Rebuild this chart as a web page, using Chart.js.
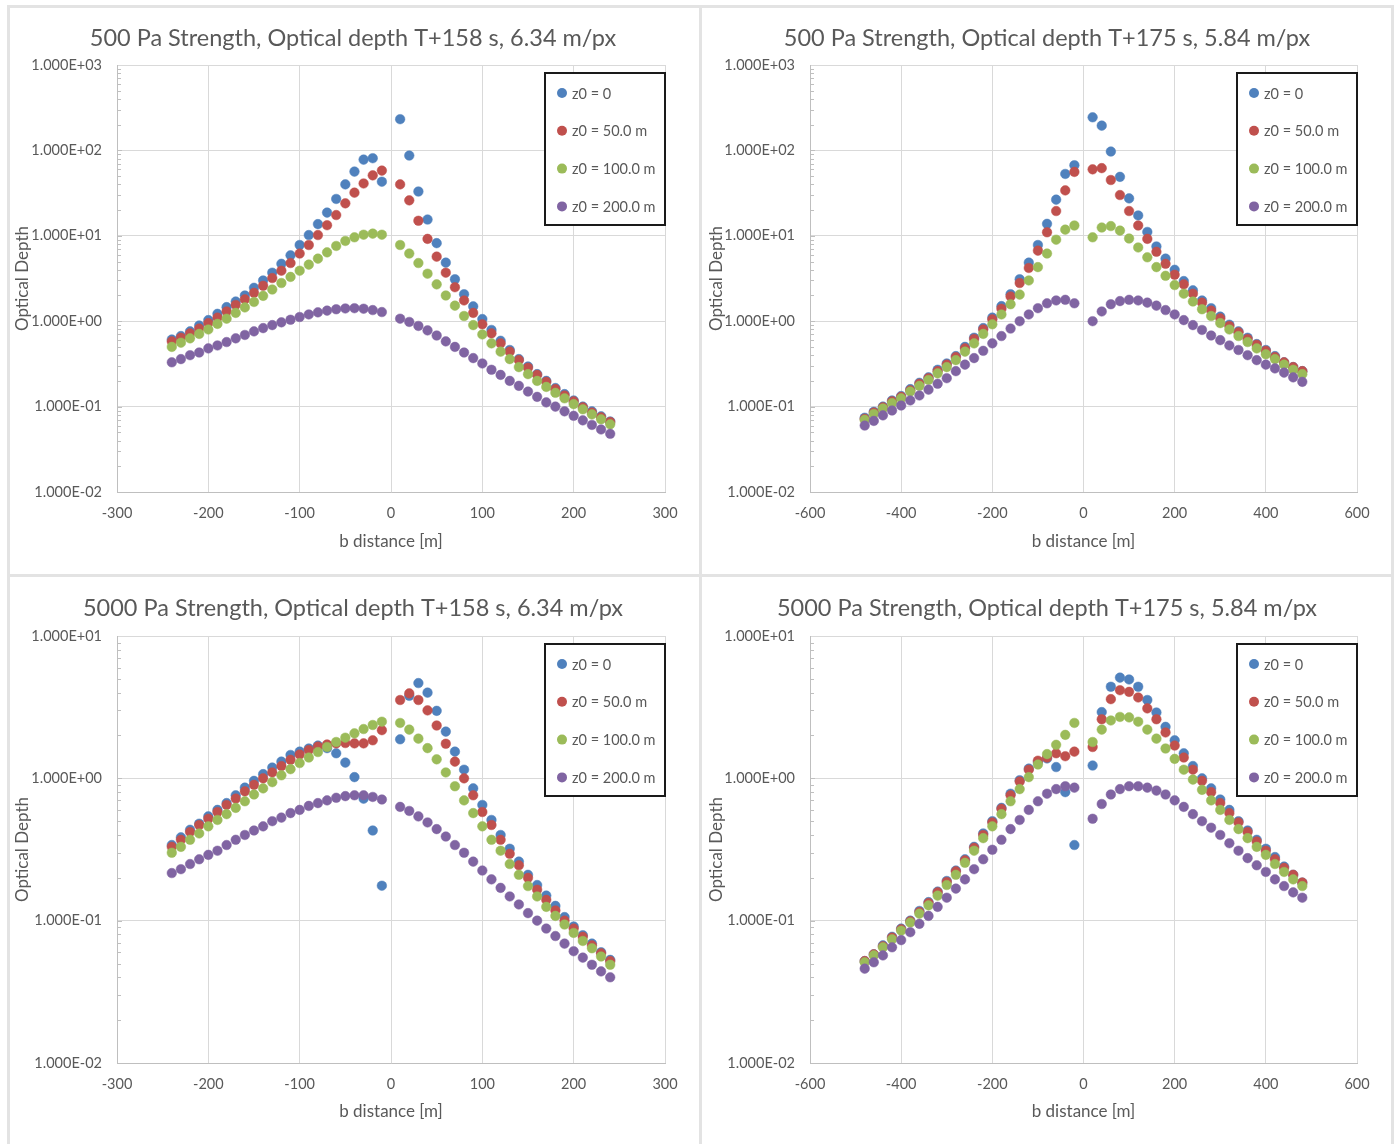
<!DOCTYPE html>
<html lang="en">
<head>
<meta charset="UTF-8">
<title>Optical Depth</title>
<script src="https://cdn.jsdelivr.net/npm/chart.js"></script>
<style>
    body { margin: 0; background: #fff; width: 1400px; height: 1144px; overflow: hidden; position: relative; }
    .frame { position: absolute; left: 7px; top: 5px; width: 1387px; height: 1150px; border: 3px solid #e3e3e3; box-sizing: border-box; }
    .vline { position: absolute; left: 699px; top: 5px; width: 3px; height: 1144px; background: #e3e3e3; }
    .hline { position: absolute; left: 7px; top: 574px; width: 1387px; height: 3px; background: #e3e3e3; }
    .panel { position: absolute; width: 690px; height: 566px; }
</style>
</head>
<body>
<div class="frame"></div>
<div class="vline"></div>
<div class="hline"></div>
<div class="panel" style="left:8px;top:8px"><canvas id="c1"></canvas></div>
<div class="panel" style="left:702px;top:8px"><canvas id="c2"></canvas></div>
<div class="panel" style="left:8px;top:578px"><canvas id="c3"></canvas></div>
<div class="panel" style="left:702px;top:578px"><canvas id="c4"></canvas></div>

<script>
// b distance values (m)
const xNear = [-240, -230, -220, -210, -200, -190, -180, -170, -160, -150, -140, -130, -120, -110, -100, -90, -80, -70, -60, -50, -40, -30, -20, -10,
    10, 20, 30, 40, 50, 60, 70, 80, 90, 100, 110, 120, 130, 140, 150, 160, 170, 180, 190, 200, 210, 220, 230, 240];
const xWide = [-480, -460, -440, -420, -400, -380, -360, -340, -320, -300, -280, -260, -240, -220, -200, -180, -160, -140, -120, -100, -80, -60, -40, -20,
    20, 40, 60, 80, 100, 120, 140, 160, 180, 200, 220, 240, 260, 280, 300, 320, 340, 360, 380, 400, 420, 440, 460, 480];

const seriesLabels = ['z0 = 0', 'z0 = 50.0 m', 'z0 = 100.0 m', 'z0 = 200.0 m'];

// 500 Pa, T+158 s
const p1Z0 = [0.61, 0.67, 0.76, 0.89, 1.03, 1.22, 1.46, 1.7, 2.0, 2.46, 3.0, 3.7, 4.7, 5.9, 7.8, 10.2, 13.7, 18.7, 27, 40, 56.5, 78, 81, 43,
    232, 87, 33, 15.5, 8.2, 4.85, 3.1, 2.07, 1.49, 1.06, 0.79, 0.59, 0.46, 0.36, 0.295, 0.24, 0.2, 0.165, 0.14, 0.118, 0.1, 0.088, 0.077, 0.067];
const p1Z50 = [0.58, 0.64, 0.72, 0.82, 0.95, 1.1, 1.3, 1.55, 1.8, 2.15, 2.6, 3.2, 3.9, 4.8, 6.2, 7.8, 10.2, 13.3, 17.5, 24, 32, 41, 51, 58,
    40, 26, 15, 9.2, 5.7, 3.7, 2.5, 1.75, 1.25, 0.92, 0.72, 0.55, 0.44, 0.35, 0.285, 0.235, 0.195, 0.16, 0.135, 0.115, 0.098, 0.085, 0.075, 0.066];
const p1Z100 = [0.5, 0.56, 0.63, 0.71, 0.8, 0.93, 1.07, 1.25, 1.45, 1.68, 1.98, 2.35, 2.8, 3.3, 3.9, 4.6, 5.4, 6.4, 7.6, 8.7, 9.6, 10.3, 10.6, 10.3,
    7.8, 6.2, 4.8, 3.6, 2.7, 2.0, 1.52, 1.15, 0.9, 0.7, 0.55, 0.44, 0.36, 0.29, 0.24, 0.2, 0.17, 0.145, 0.125, 0.107, 0.093, 0.081, 0.071, 0.062];
const p1Z200 = [0.33, 0.36, 0.4, 0.43, 0.48, 0.52, 0.57, 0.63, 0.69, 0.76, 0.83, 0.9, 0.97, 1.04, 1.12, 1.2, 1.27, 1.33, 1.38, 1.41, 1.42, 1.4, 1.35, 1.28,
    1.07, 0.98, 0.88, 0.78, 0.68, 0.58, 0.5, 0.43, 0.37, 0.32, 0.27, 0.235, 0.2, 0.175, 0.15, 0.13, 0.112, 0.1, 0.088, 0.078, 0.069, 0.061, 0.054, 0.048];

// 500 Pa, T+175 s
const p2Z0 = [0.074, 0.087, 0.1, 0.118, 0.133, 0.16, 0.19, 0.22, 0.27, 0.32, 0.39, 0.5, 0.64, 0.83, 1.1, 1.5, 2.07, 3.1, 4.85, 7.8, 13.8, 26.5, 53, 67,
    244, 195, 97, 49, 27.4, 17.3, 11.1, 7.5, 5.4, 4.0, 2.95, 2.3, 1.75, 1.42, 1.13, 0.91, 0.76, 0.64, 0.54, 0.46, 0.39, 0.33, 0.29, 0.26];
const p2Z50 = [0.072, 0.085, 0.098, 0.115, 0.13, 0.155, 0.185, 0.215, 0.26, 0.31, 0.38, 0.48, 0.62, 0.8, 1.05, 1.4, 1.95, 2.8, 4.2, 6.7, 11, 19.5, 34, 56,
    60, 62, 45, 30, 19.5, 13.2, 9.2, 6.5, 4.7, 3.5, 2.7, 2.1, 1.65, 1.33, 1.08, 0.88, 0.74, 0.62, 0.53, 0.45, 0.38, 0.33, 0.29, 0.26];
const p2Z100 = [0.07, 0.082, 0.095, 0.11, 0.125, 0.15, 0.175, 0.205, 0.245, 0.29, 0.35, 0.44, 0.55, 0.71, 0.92, 1.2, 1.58, 2.05, 3.0, 4.3, 6.2, 9.0, 11.8, 13.2,
    9.6, 12.5, 13, 11.5, 9.3, 7.3, 5.6, 4.3, 3.4, 2.65, 2.1, 1.7, 1.38, 1.15, 0.95, 0.8, 0.67, 0.57, 0.48, 0.41, 0.36, 0.31, 0.27, 0.24];
const p2Z200 = [0.06, 0.068, 0.079, 0.09, 0.103, 0.118, 0.135, 0.158, 0.185, 0.215, 0.26, 0.31, 0.37, 0.45, 0.55, 0.67, 0.82, 1.0, 1.2, 1.42, 1.62, 1.75, 1.78, 1.62,
    1.0, 1.3, 1.58, 1.72, 1.78, 1.75, 1.65, 1.52, 1.35, 1.2, 1.03, 0.9, 0.79, 0.68, 0.6, 0.52, 0.46, 0.4, 0.35, 0.31, 0.28, 0.25, 0.22, 0.195];

// 5000 Pa, T+158 s
const p3Z0 = [0.34, 0.385, 0.435, 0.48, 0.54, 0.6, 0.67, 0.76, 0.86, 0.96, 1.07, 1.19, 1.31, 1.46, 1.54, 1.62, 1.7, 1.63, 1.5, 1.29, 1.02, 0.72, 0.43, 0.176,
    1.88, 3.8, 4.67, 4.0, 2.98, 2.13, 1.54, 1.15, 0.85, 0.65, 0.51, 0.4, 0.32, 0.26, 0.21, 0.178, 0.15, 0.127, 0.106, 0.091, 0.079, 0.069, 0.06, 0.053];
const p3Z50 = [0.33, 0.37, 0.42, 0.47, 0.52, 0.58, 0.65, 0.72, 0.81, 0.9, 1.0, 1.1, 1.22, 1.35, 1.47, 1.58, 1.67, 1.73, 1.76, 1.77, 1.76, 1.76, 1.85, 2.18,
    3.55, 3.95, 3.55, 3.0, 2.35, 1.75, 1.31, 1.0, 0.76, 0.58, 0.47, 0.37, 0.295, 0.245, 0.2, 0.165, 0.14, 0.118, 0.1, 0.088, 0.077, 0.067, 0.059, 0.052];
const p3Z100 = [0.3, 0.33, 0.37, 0.41, 0.46, 0.51, 0.56, 0.62, 0.69, 0.77, 0.85, 0.94, 1.05, 1.16, 1.28, 1.4, 1.53, 1.66, 1.8, 1.93, 2.07, 2.22, 2.37, 2.5,
    2.45, 2.2, 1.9, 1.63, 1.36, 1.1, 0.88, 0.7, 0.57, 0.46, 0.37, 0.31, 0.25, 0.21, 0.175, 0.148, 0.125, 0.108, 0.094, 0.082, 0.072, 0.064, 0.056, 0.049];
const p3Z200 = [0.216, 0.23, 0.25, 0.27, 0.29, 0.31, 0.34, 0.37, 0.4, 0.43, 0.46, 0.5, 0.53, 0.57, 0.6, 0.64, 0.67, 0.7, 0.73, 0.75, 0.76, 0.76, 0.74, 0.71,
    0.63, 0.59, 0.54, 0.49, 0.44, 0.39, 0.34, 0.3, 0.26, 0.225, 0.195, 0.17, 0.148, 0.13, 0.113, 0.1, 0.088, 0.078, 0.069, 0.061, 0.055, 0.049, 0.044, 0.04];

// 5000 Pa, T+175 s
const p4Z0 = [0.052, 0.058, 0.067, 0.077, 0.088, 0.1, 0.117, 0.135, 0.16, 0.19, 0.225, 0.27, 0.33, 0.41, 0.5, 0.62, 0.78, 0.97, 1.17, 1.3, 1.38, 1.2, 0.8, 0.34,
    1.23, 2.92, 4.4, 5.1, 4.95, 4.4, 3.55, 2.9, 2.3, 1.85, 1.5, 1.22, 1.0, 0.85, 0.71, 0.6, 0.5, 0.43, 0.37, 0.32, 0.28, 0.24, 0.21, 0.185];
const p4Z50 = [0.052, 0.058, 0.066, 0.076, 0.087, 0.099, 0.115, 0.133, 0.158, 0.187, 0.222, 0.265, 0.325, 0.4, 0.49, 0.61, 0.76, 0.95, 1.15, 1.33, 1.4, 1.5, 1.43, 1.54,
    1.66, 2.6, 3.6, 4.16, 4.05, 3.7, 3.1, 2.6, 2.1, 1.7, 1.4, 1.15, 0.96, 0.8, 0.67, 0.57, 0.49, 0.42, 0.36, 0.31, 0.27, 0.235, 0.21, 0.185];
const p4Z100 = [0.051, 0.057, 0.065, 0.074, 0.085, 0.097, 0.112, 0.128, 0.15, 0.178, 0.21, 0.255, 0.31, 0.38, 0.46, 0.56, 0.69, 0.84, 1.02, 1.25, 1.48, 1.72, 2.02, 2.45,
    1.8, 2.2, 2.55, 2.7, 2.68, 2.5, 2.2, 1.9, 1.62, 1.37, 1.15, 0.98, 0.83, 0.7, 0.6, 0.51, 0.44, 0.38, 0.33, 0.29, 0.25, 0.22, 0.195, 0.175];
const p4Z200 = [0.046, 0.051, 0.057, 0.065, 0.073, 0.083, 0.095, 0.108, 0.125, 0.145, 0.168, 0.195, 0.23, 0.27, 0.315, 0.37, 0.44, 0.51, 0.6, 0.69, 0.78, 0.84, 0.88, 0.86,
    0.52, 0.66, 0.77, 0.84, 0.88, 0.88, 0.86, 0.82, 0.77, 0.7, 0.63, 0.56, 0.5, 0.45, 0.4, 0.35, 0.31, 0.275, 0.245, 0.22, 0.195, 0.175, 0.158, 0.145];

const colors = ['#4F81BD', '#C0504D', '#9BBB59', '#8064A2'];
const textGray = '#595959';
const gridGray = '#d9d9d9';
const titleSize = 23.5;

// 1.000E+03 style labels
const sciLabel = (v) => {
    const e = Math.round(Math.log10(v));
    const pad = String(Math.abs(e)).padStart(2, '0');
    return '1.000E' + (e < 0 ? '-' : '+') + pad;
};

// center the title on the whole panel, not on the padded box
const wideTitle = {
    id: 'wideTitle',
    afterLayout(chart) {
        const t = chart.titleBlock;
        if (!t) return;
        t.left = 0;
        t.right = chart.width;
        t.width = chart.width;
    }
};

// short inner ticks on the log axis, like Excel minor marks
const minorTicks = {
    id: 'minorTicks',
    beforeDatasetsDraw(chart) {
        const y = chart.scales.y;
        const ctx = chart.ctx;
        const left = chart.chartArea.left;
        ctx.save();
        ctx.strokeStyle = '#bfbfbf';
        ctx.lineWidth = 1;
        const k0 = Math.round(Math.log10(y.min));
        const k1 = Math.round(Math.log10(y.max));
        for (let k = k0; k < k1; k++) {
            for (let m = 1; m <= 9; m++) {
                const py = Math.round(y.getPixelForValue(m * Math.pow(10, k))) + 0.5;
                ctx.beginPath();
                ctx.moveTo(left, py);
                ctx.lineTo(left + (m === 1 ? 5 : 4), py);
                ctx.stroke();
            }
        }
        ctx.restore();
    }
};

// boxed legend inside the plot, top right
const boxLegend = {
    id: 'boxLegend',
    afterDraw(chart) {
        const ctx = chart.ctx;
        const area = chart.chartArea;
        const bw = 120, bh = 152;
        const bx = area.right - bw, by = area.top + 8;
        ctx.save();
        ctx.fillStyle = '#fff';
        ctx.fillRect(bx, by, bw, bh);
        ctx.strokeStyle = '#1a1a1a';
        ctx.lineWidth = 2;
        ctx.strokeRect(bx, by, bw, bh);
        ctx.font = '14.5px Lato';
        ctx.textBaseline = 'middle';
        chart.data.datasets.forEach((ds, i) => {
            const cy = by + 20 + i * 37.8;
            ctx.fillStyle = ds.backgroundColor;
            ctx.beginPath();
            ctx.arc(bx + 17, cy, 5, 0, Math.PI * 2);
            ctx.fill();
            ctx.fillStyle = textGray;
            ctx.fillText(ds.label, bx + 27, cy + 1);
        });
        ctx.restore();
    }
};

function makeChart(id, title, xs, series, xLim, xStep, yMax, g) {
    const datasets = series.map((ys, i) => ({
        label: seriesLabels[i],
        data: xs.map((x, j) => ({ x: x, y: ys[j] })),
        backgroundColor: colors[i],
        borderColor: colors[i],
        borderWidth: 0.5,
        pointRadius: 4.8,
        pointHoverRadius: 4.8,
        order: 3 - i
    }));

    return new Chart(document.getElementById(id), {
        type: 'scatter',
        data: { datasets: datasets },
        plugins: [wideTitle, minorTicks, boxLegend],
        options: {
            responsive: true,
            maintainAspectRatio: false,
            animation: false,
            layout: { padding: { right: g.right } },
            plugins: {
                legend: { display: false },
                tooltip: { enabled: false },
                title: {
                    display: true,
                    text: title,
                    color: textGray,
                    font: { family: 'Lato', size: titleSize, weight: 'normal' },
                    padding: { top: 16, bottom: g.top - 16 - titleSize * 1.2 }
                }
            },
            scales: {
                x: {
                    type: 'linear',
                    min: -xLim,
                    max: xLim,
                    afterFit: (s) => { s.height = g.xh; },
                    ticks: { stepSize: xStep, color: textGray, font: { family: 'Lato', size: 14.5 }, padding: 13 },
                    grid: { color: gridGray, drawTicks: false },
                    border: { color: '#bfbfbf' },
                    title: {
                        display: true,
                        text: 'b distance [m]',
                        color: textGray,
                        font: { family: 'Lato', size: 17 },
                        padding: { top: 0, bottom: 22.5 }
                    }
                },
                y: {
                    type: 'logarithmic',
                    min: 0.01,
                    max: yMax,
                    afterFit: (s) => { s.width = g.yw; },
                    afterBuildTicks: (s) => {
                        const t = [];
                        for (let v = 0.01; v <= yMax * 1.0001; v *= 10) t.push({ value: v });
                        s.ticks = t;
                    },
                    ticks: {
                        color: textGray,
                        font: { family: 'Lato', size: 14.5 },
                        padding: 15,
                        autoSkip: false,
                        callback: (v) => sciLabel(v)
                    },
                    grid: { color: gridGray, drawTicks: false },
                    border: { color: '#bfbfbf' },
                    title: {
                        display: true,
                        text: 'Optical Depth',
                        color: textGray,
                        font: { family: 'Lato', size: 17 },
                        padding: { top: 4, bottom: 0 }
                    }
                }
            }
        }
    });
}

makeChart('c1', '500 Pa Strength, Optical depth T+158 s, 6.34 m/px', xNear, [p1Z0, p1Z50, p1Z100, p1Z200], 300, 100, 1000,
    { top: 57, right: 33, xh: 82, yw: 109 });
makeChart('c2', '500 Pa Strength, Optical depth T+175 s, 5.84 m/px', xWide, [p2Z0, p2Z50, p2Z100, p2Z200], 600, 200, 1000,
    { top: 57, right: 35, xh: 82, yw: 108 });
makeChart('c3', '5000 Pa Strength, Optical depth T+158 s, 6.34 m/px', xNear, [p3Z0, p3Z50, p3Z100, p3Z200], 300, 100, 10,
    { top: 58, right: 33, xh: 81, yw: 109 });
makeChart('c4', '5000 Pa Strength, Optical depth T+175 s, 5.84 m/px', xWide, [p4Z0, p4Z50, p4Z100, p4Z200], 600, 200, 10,
    { top: 58, right: 35, xh: 81, yw: 108 });
</script>
</body>
</html>
